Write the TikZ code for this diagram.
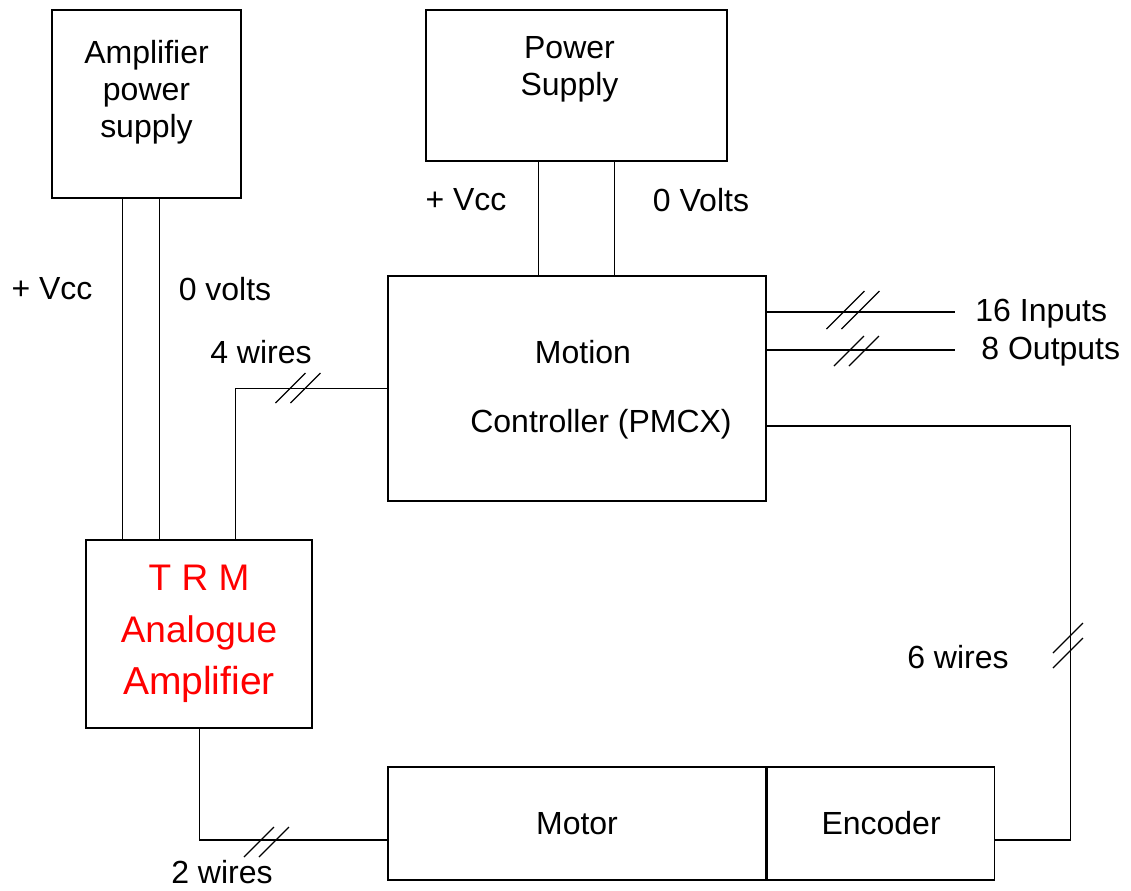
\documentclass[tikz,border=0pt]{standalone}
\usepackage{fontspec}
\setmainfont{Liberation Sans}
\usepackage{xcolor}
\usetikzlibrary{positioning,calc}

\begin{document}
\begin{tikzpicture}[
  x=0.5pt, y=-0.5pt,
  font=\fontsize{16}{18.5}\selectfont,
  box/.style={draw,line width=0.8pt,inner sep=0pt},
  wire/.style={line width=0.6pt},
  lbl/.style={inner sep=0pt},
  pics/hmark/.style={code={\foreach \d in {-7.5,7.5} \draw[wire] (\d-#1,#1) -- (\d+#1,-#1);}},
  pics/hmark/.default=15,
  pics/vmark/.style={code={\foreach \d in {-7.5,7.5} \draw[wire] (-#1,\d+#1) -- (#1,\d-#1);}},
  pics/vmark/.default=15
]
\useasboundingbox (0,0) rectangle (1131,890);
% boxes
\node[box,minimum width=94.5pt,minimum height=94pt] (aps) at (146.5,104) {};
\node[align=center] (apstxt) at ([yshift=6pt]aps.center) {Amplifier\\power\\supply};
\node[box,minimum width=150.5pt,minimum height=75.5pt] (ps) at (576.5,85.5) {};
\node[align=center] (pstxt) at ([xshift=-3.5pt,yshift=8pt]ps.center) {Power\\Supply};
\node[box,minimum width=189pt,minimum height=112.5pt] (mc) at (577,388.5) {};
\node[lbl] (mctop) at (583,352) {Motion};
\node[lbl] (mcbot) at (601,424) {Controller (PMCX)};
\node[box,minimum width=113pt,minimum height=94pt,align=center,text=red,font=\fontsize{18.5}{26}\selectfont] (trm) at (199,634)
  {T R M\\Analogue\\{\fontsize{19.5}{26}\selectfont Amplifier}};
\node[box,minimum width=189pt,minimum height=56.5pt] (motor) at (577,823.5) {Motor};
\node[box,minimum width=113.5pt,minimum height=56.5pt,right=0pt of motor] (enc) {Encoder};

% wires
\draw[wire] (aps.south west) ++(71,0) coordinate (a1) -- (a1 |- trm.north);
\draw[wire] (aps.south west) ++(108,0) coordinate (a2) -- (a2 |- trm.north);
\draw[wire] (ps.south west) ++(113,0) coordinate (p1) -- (p1 |- mc.north);
\draw[wire] (ps.south west) ++(189,0) coordinate (p2) -- (p2 |- mc.north);
\draw[wire] (trm.north west) ++(150,0) coordinate (t1) |- (mc.west);
\draw[wire] (trm.south west) ++(114,0) coordinate (t2) |- ([yshift=-8.25pt]motor.west);
\draw[wire] ([yshift=-18.75pt]mc.east) -| ([xshift=37.5pt,yshift=-8.25pt]enc.east) -- ([yshift=-8.25pt]enc.east);
\coordinate (in16) at (955,312);
\coordinate (out8) at (955,350);
\draw[wire] (in16 -| mc.east) -- (in16);
\draw[wire] (out8 -| mc.east) -- (out8);

% wire count marks
\pic at (298,388) {hmark};
\pic at (266.5,842) {hmark};
\pic at (1068,645.5) {vmark};
\pic at (853,310) {hmark=19};
\pic at (856.5,351) {hmark};

% labels
\node[lbl] (vcc1) at (52,289) {+ Vcc};
\node[lbl] (gnd1) at (225,289) {0 volts};
\node[lbl] (vcc2) at (466,200) {+ Vcc};
\node[lbl] (gnd2) at (701,200) {0 Volts};
\node[lbl] (w4) at (261,352) {4 wires};
\node[lbl] (w6) at (958,657) {6 wires};
\node[lbl] (w2) at (222,872) {2 wires};
\node[lbl,anchor=west] (inp) at (975,314) {16 Inputs};
\node[lbl,anchor=west] (outp) at (981,352) {8 Outputs};
\end{tikzpicture}
\end{document}
